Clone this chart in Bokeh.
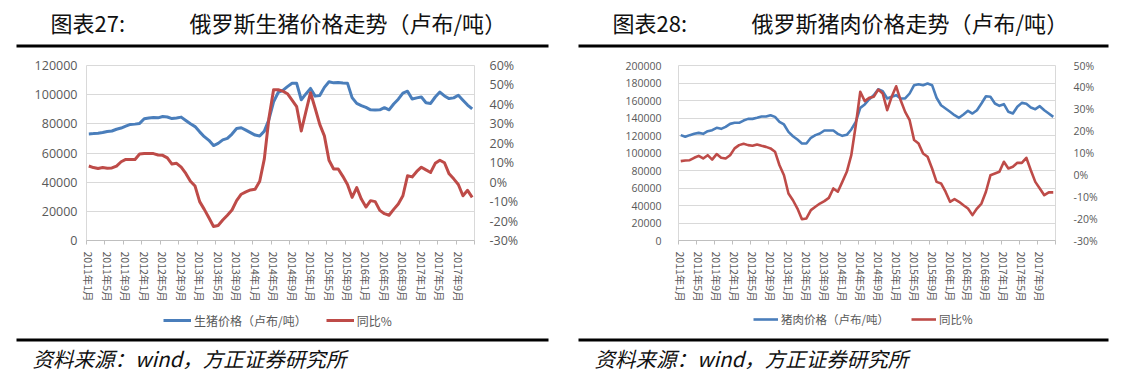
from bokeh.plotting import figure
from bokeh.models import (Range1d, LinearAxis, FixedTicker, PrintfTickFormatter,
                          Label, BoxAnnotation, Legend, LegendItem, ColumnDataSource, Grid)
from bokeh.layouts import row, column
from bokeh.embed import file_html
from bokeh.resources import INLINE

months = [f"{y}年{m}月" for y in range(2011, 2018) for m in range(1, 13)]
tick_idx = list(range(0, 84, 4))
tick_labels = [months[i] for i in tick_idx]

hog_price = [73100, 73300, 73600, 74000, 74700, 75100, 76300, 77100, 78400, 79600,
             79800, 80300, 83500, 84000, 84400, 84100, 85000, 84700, 83600, 84000,
             84600, 82300, 80000, 78100, 74500, 71200, 68700, 65100, 66600, 69000,
             70000, 73000, 76800, 77300, 75700, 74000, 72300, 71700, 75000, 83000,
             95000, 101500, 102900, 105500, 107800, 107800, 96500, 100500, 104300, 99000,
             99500, 105000, 108800, 108100, 108400, 108000, 107900, 98000, 94000, 92500,
             91300, 89600, 89500, 89600, 91100, 89600, 93600, 96900, 101100, 102400,
             97000, 97800, 98400, 94500, 94000, 98400, 101800, 99100, 97300, 97800,
             99600, 96200, 92900, 90200]
hog_yoy = [8.3, 7.5, 7.0, 7.5, 7.2, 7.3, 8.3, 10.5, 11.7, 11.7,
           11.7, 14.5, 14.7, 14.7, 14.7, 14.0, 13.8, 12.5, 9.3, 9.7,
           7.7, 4.5, 0.5, -2.0, -10.0, -14.0, -18.3, -22.8, -22.3, -19.5,
           -17.0, -14.3, -9.5, -6.2, -5.0, -4.0, -3.7, 0.5, 12.0, 33.0,
           47.5, 47.5, 46.8, 45.5, 42.2, 38.8, 26.3, 36.3, 46.0, 38.0,
           29.7, 23.8, 11.3, 6.8, 6.8, 3.0, -1.2, -7.8, -2.8, -8.7,
           -12.8, -9.5, -10.0, -14.5, -16.2, -17.0, -14.0, -11.2, -7.0, 3.3,
           2.7, 5.5, 7.7, 6.3, 5.0, 9.7, 11.3, 10.0, 4.3, 1.7,
           -1.2, -7.0, -4.2, -7.8]
pork_price = [120400, 118500, 120400, 121900, 123000, 121900, 124900, 126100, 128800, 127600,
              129900, 133300, 134500, 134500, 137100, 139000, 139000, 140200, 141700, 141700,
              143200, 141300, 135600, 132600, 124200, 119200, 115400, 110900, 110900, 117400,
              120400, 122300, 125700, 125700, 125700, 121900, 119600, 120800, 126900, 135600,
              151600, 155500, 161500, 166100, 172900, 170600, 162300, 164200, 166100, 162300,
              162300, 168000, 177500, 178600, 177500, 179400, 177500, 163100, 154600, 150900,
              147100, 143200, 140200, 144000, 148200, 145100, 148900, 156600, 164900, 164200,
              156600, 153900, 155800, 147100, 145100, 152800, 157300, 156200, 152000, 150100,
              153500, 148900, 145100, 141300]
pork_yoy = [6.3, 6.6, 6.7, 7.8, 8.7, 7.5, 9.0, 7.0, 9.5, 7.8,
            7.5, 9.0, 12.1, 13.6, 14.2, 13.6, 13.3, 13.9, 13.3, 12.8,
            12.1, 10.6, 4.4, -0.2, -8.5, -11.6, -15.4, -20.3, -19.9, -16.1,
            -14.6, -13.1, -12.0, -10.5, -6.2, -7.7, -3.2, 1.4, 9.0, 22.7,
            38.0, 33.7, 35.2, 35.7, 39.0, 37.2, 29.6, 35.7, 40.5, 34.1,
            28.8, 25.0, 15.9, 14.3, 9.8, 8.3, 2.9, -3.2, -3.9, -7.7,
            -12.3, -11.1, -12.3, -13.9, -15.4, -18.4, -15.4, -13.1, -7.7, -0.2,
            0.6, 1.4, 6.0, 2.9, 3.7, 5.5, 5.5, 7.8, 2.1, -3.2,
            -6.2, -9.3, -8.0, -8.0]

BLUE = "#4A7EBB"
RED = "#BE4B48"
CJK = "Noto Sans CJK SC"
NUM = "Open Sans"
GRAY = "#595959"
TOTAL_W, PANEL_W = 1122, 561
HEAD_H, CHART_H, FOOT_H = 52, 258, 68
CHART_TOP = HEAD_H
FOOT_TOP = HEAD_H + CHART_H


def blank(h):
    p = figure(width=TOTAL_W, height=h, output_backend="svg", toolbar_location=None,
               x_range=Range1d(0, TOTAL_W), y_range=Range1d(0, h),
               x_axis_type=None, y_axis_type=None, min_border=0,
               outline_line_color=None, background_fill_color="white",
               border_fill_color="white")
    p.grid.visible = False
    return p


def rule(p, h, left, right, y_top, y_bot):
    p.add_layout(BoxAnnotation(left=left, right=right, bottom=h - y_bot, top=h - y_top,
                               left_units="screen", right_units="screen",
                               bottom_units="screen", top_units="screen",
                               fill_color="black", fill_alpha=1.0, line_color=None,
                               line_alpha=0))


def text(p, h, x, y, t, size, style="normal"):
    p.add_layout(Label(x=x, y=h - y, x_units="screen", y_units="screen", text=t,
                       text_font=CJK, text_font_size=size, text_font_style=style,
                       text_baseline="middle", text_color="#111111"))


def make_chart(src, cfg):
    p = figure(width=PANEL_W, height=CHART_H, output_backend="svg", toolbar_location=None,
               x_range=Range1d(-0.5, 83.5), y_range=Range1d(0, cfg["ymax"]),
               x_axis_type=None, y_axis_type=None,
               min_border_left=cfg["bl"], min_border_right=cfg["br"],
               min_border_top=cfg["ft"] - CHART_TOP,
               min_border_bottom=FOOT_TOP - cfg["fb"],
               background_fill_color="white", border_fill_color="white",
               outline_line_color="#d9d9d9")
    p.extra_y_ranges = {"pct": Range1d(cfg["pmin"], cfg["pmax"])}

    yt = list(range(0, cfg["ymax"] + 1, 20000))
    p.add_layout(Grid(dimension=1, ticker=FixedTicker(ticks=yt), grid_line_color="#d9d9d9"))

    ly = LinearAxis(ticker=FixedTicker(ticks=yt), formatter=PrintfTickFormatter(format="%d"),
                    major_tick_line_color=None, minor_tick_line_color=None,
                    axis_line_color=None, major_label_text_color=GRAY,
                    major_label_text_font=NUM, major_label_text_font_size=cfg["fs"],
                    major_label_standoff=cfg["sl"])
    p.add_layout(ly, "left")

    pt = list(range(cfg["pmin"], cfg["pmax"] + 1, 10))
    ry = LinearAxis(y_range_name="pct", ticker=FixedTicker(ticks=pt),
                    formatter=PrintfTickFormatter(format="%d%%"),
                    major_tick_line_color=None, minor_tick_line_color=None,
                    axis_line_color=None, major_label_text_color=GRAY,
                    major_label_text_font=NUM, major_label_text_font_size=cfg["fs"],
                    major_label_standoff=cfg["sr"])
    p.add_layout(ry, "right")

    bx = LinearAxis(ticker=FixedTicker(ticks=tick_idx,
                                       minor_ticks=[i - 0.5 for i in range(0, 85, 4)]),
                    major_label_overrides={i: lab for i, lab in zip(tick_idx, tick_labels)},
                    major_label_orientation="vertical",
                    major_tick_line_color=None, major_tick_in=0, major_tick_out=4,
                    minor_tick_line_color="#bfbfbf", minor_tick_in=0, minor_tick_out=4,
                    axis_line_color="#bfbfbf", major_label_text_color=GRAY,
                    major_label_text_font=CJK, major_label_text_font_size="10.5px",
                    major_label_standoff=7)
    p.add_layout(bx, "below")

    p.line("x", "price", source=src, line_color=BLUE, line_width=cfg["lw"],
           line_join="round")
    p.line("x", "yoy", source=src, y_range_name="pct", line_color=RED,
           line_width=cfg["lw"], line_join="round")
    return p


def add_legend(f, src, cfg):
    # legend keys: same series, mapped to an off-screen range so only the keys show
    kb = f.line("x", "price", source=src, line_color=BLUE, line_width=cfg["lw"],
                y_range_name="off")
    kr = f.line("x", "yoy", source=src, line_color=RED, line_width=cfg["lw"],
                y_range_name="off")
    leg = Legend(items=[LegendItem(label=cfg["leg1"], renderers=[kb]),
                        LegendItem(label="同比%", renderers=[kr])],
                 orientation="horizontal",
                 location=(cfg["legx"], 378 - cfg["legy"] - 6),
                 glyph_width=cfg["gw"], glyph_height=12, label_height=12,
                 label_standoff=3, spacing=cfg["legsp"], padding=0, margin=0,
                 border_line_color=None, background_fill_alpha=0,
                 label_text_font=CJK, label_text_font_size=cfg["legfs"],
                 label_text_color=GRAY)
    f.add_layout(leg)


cfg1 = dict(ymax=120000, pmin=-30, pmax=60, bl=86, br=87, ft=61, fb=241,
            fs="12.5px", sl=3, sr=9, lw=3, leg1="生猪价格（卢布/吨）",
            legx=163, legy=322.7, gw=28, legsp=19, legfs="12px")
cfg2 = dict(ymax=200000, pmin=-30, pmax=50, bl=117, br=67, ft=65, fb=240,
            fs="10.5px", sl=11, sr=12, lw=2.6, leg1="猪肉价格（卢布/吨）",
            legx=753, legy=320.5, gw=25, legsp=22, legfs="11.5px")

src1 = ColumnDataSource(dict(x=list(range(84)), price=hog_price, yoy=hog_yoy))
src2 = ColumnDataSource(dict(x=list(range(84)), price=pork_price, yoy=pork_yoy))

# header strip: figure numbers, titles, rules
head = blank(HEAD_H)
text(head, HEAD_H, 50, 21.5, "图表27:", "22px")
text(head, HEAD_H, 189, 21.5, "俄罗斯生猪价格走势（卢布/吨）", "22px")
text(head, HEAD_H, 612, 21.5, "图表28:", "22px")
text(head, HEAD_H, 751, 21.5, "俄罗斯猪肉价格走势（卢布/吨）", "22px")
rule(head, HEAD_H, 16, 548, 44, 47)
rule(head, HEAD_H, 578, 1108, 44, 47)

# footer strip: legends, rules and sources
foot = blank(FOOT_H)
foot.extra_y_ranges = {"off": Range1d(1e7, 2e7)}
add_legend(foot, src1, cfg1)
add_legend(foot, src2, cfg2)
rule(foot, FOOT_H, 16, 548, 338 - FOOT_TOP, 341 - FOOT_TOP)
rule(foot, FOOT_H, 578, 1108, 338 - FOOT_TOP, 341 - FOOT_TOP)
text(foot, FOOT_H, 32, 357 - FOOT_TOP, "资料来源：wind，方正证券研究所", "20.5px", "italic")
text(foot, FOOT_H, 594, 357 - FOOT_TOP, "资料来源：wind，方正证券研究所", "20.5px", "italic")

charts = row(make_chart(src1, cfg1), make_chart(src2, cfg2), spacing=0)
layout = column(head, charts, foot, spacing=0)
open("out.html", "w").write(file_html(layout, INLINE))
